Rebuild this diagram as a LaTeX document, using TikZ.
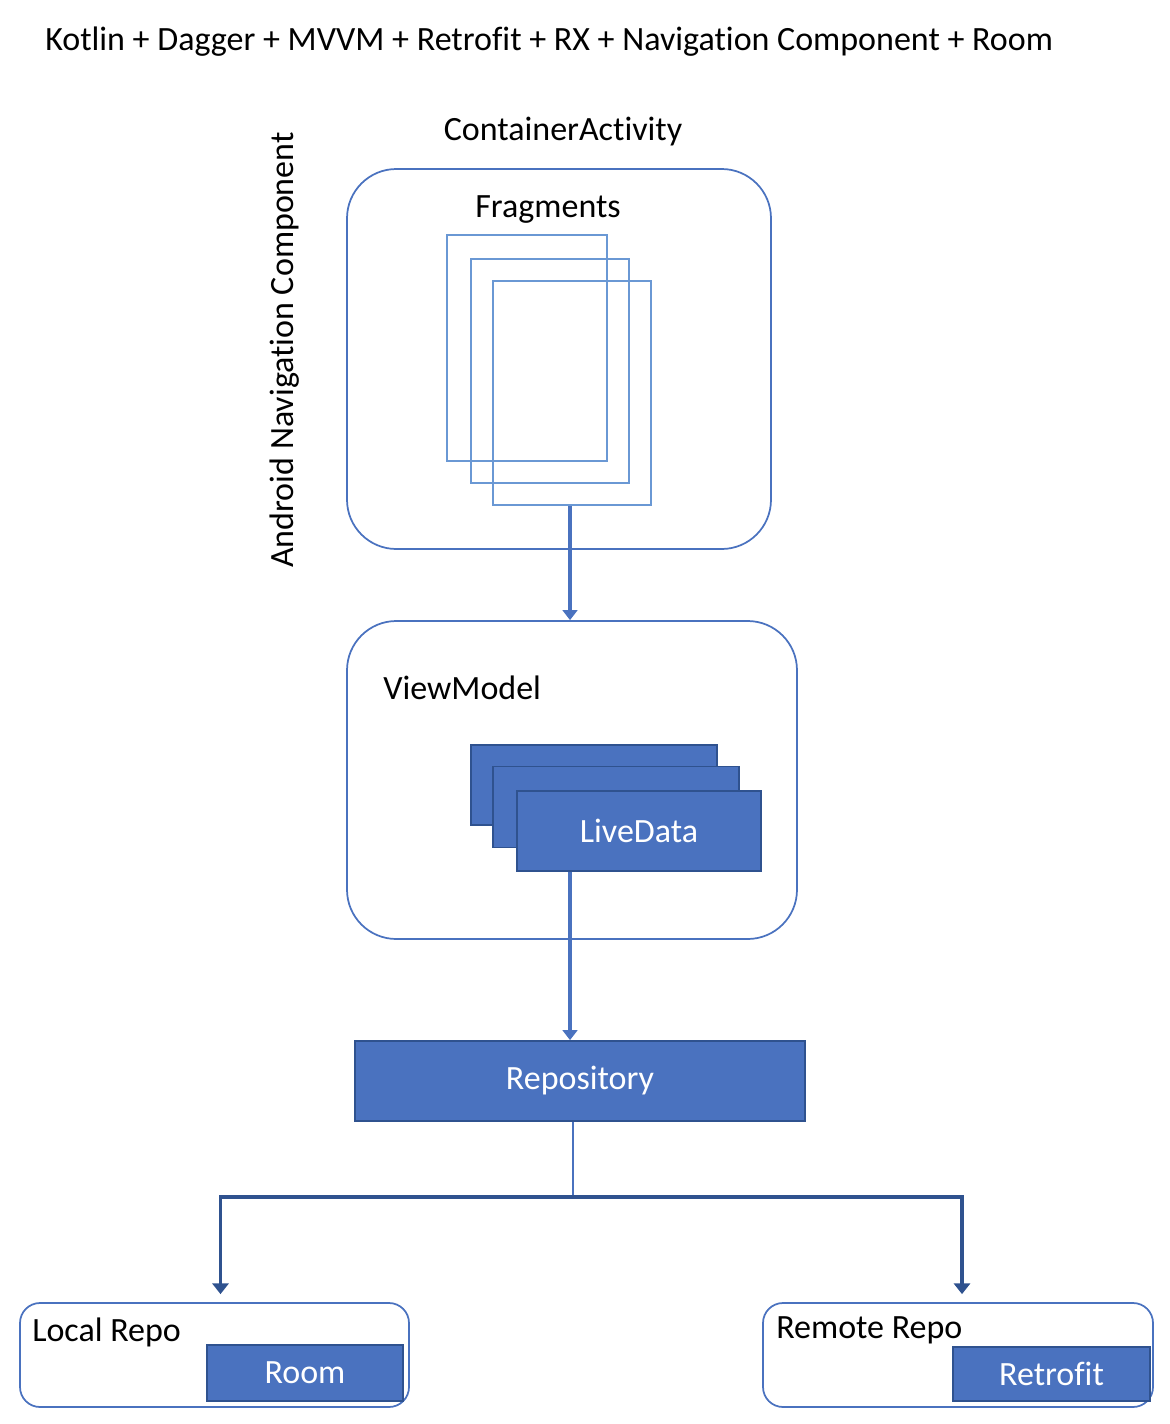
\documentclass[tikz,border=0pt]{standalone}
\usepackage{fontspec}
\setmainfont{Carlito}[Ligatures=NoCommon]
\usetikzlibrary{arrows.meta}
\definecolor{accent}{HTML}{4A72BF}
\definecolor{accentdark}{HTML}{2F528F}
\definecolor{fragblue}{HTML}{6A98D4}
\tikzset{
  lbl/.style={font=\fontsize{25.5}{30}\selectfont, text=black, inner sep=0pt},
  roundbox/.style={draw=accent, line width=1.3pt, fill=white, rounded corners=37pt, inner sep=0pt},
  smallround/.style={draw=accent, line width=1.3pt, fill=white, rounded corners=15pt, inner sep=0pt},
  fragbox/.style={draw=fragblue, line width=1.4pt, inner sep=0pt},
  solidbox/.style={draw=accentdark, line width=1.3pt, fill=accent, inner sep=0pt, text=white, font=\fontsize{25.5}{30}\selectfont},
  flow/.style={draw=accent, line width=2.6pt, -{Triangle[width=11pt,length=7.5pt]}},
  branch/.style={draw=accentdark, line width=2.6pt, -{Triangle[width=12pt,length=8pt]}, shorten >=6pt},
}
\begin{document}
\begin{tikzpicture}[x=0.75pt,y=-0.75pt]
\useasboundingbox (0,0) rectangle (1170,1424);
\node[lbl, anchor=west] (title) at (45,41.5) {Kotlin + Dagger + MVVM + Retrofit + RX + Navigation Component + Room};
\node[lbl] (calabel) at (563,132) {ContainerActivity};
\node[lbl, rotate=90] (navlabel) at (285,350) {Android Navigation Component};
% container
\node[roundbox, minimum width={424*0.75pt}, minimum height={380*0.75pt}] (container) at (559,359) {};
\node[lbl] (fraglabel) at (548,210) {Fragments};
\node[fragbox, minimum width={160*0.75pt}, minimum height={226*0.75pt}] (frag1) at (527,348) {};
\node[fragbox, minimum width={158*0.75pt}, minimum height={224*0.75pt}] (frag2) at (550,371) {};
\node[fragbox, minimum width={158*0.75pt}, minimum height={224*0.75pt}] (frag3) at (572,393) {};
% viewmodel
\node[roundbox, minimum width={450*0.75pt}, minimum height={318*0.75pt}] (vm) at (572,780) {};
\node[lbl, anchor=west] (vmlabel) at (383,688) {ViewModel};
\node[solidbox, minimum width={246*0.75pt}, minimum height={80*0.75pt}] (ld1) at (594,785) {};
\node[solidbox, minimum width={246*0.75pt}, minimum height={81*0.75pt}] (ld2) at (616,807) {};
\node[solidbox, minimum width={244*0.75pt}, minimum height={80*0.75pt}] (ld3) at (639,831) {LiveData};
% repository
\node[solidbox, minimum width={450*0.75pt}, minimum height={80*0.75pt}] (repo) at (580,1081) {Repository};
% local / remote
\node[smallround, minimum width={389*0.75pt}, minimum height={104*0.75pt}] (local) at (214.5,1355) {};
\node[lbl, anchor=west] (locallabel) at (32,1332) {Local Repo};
\node[solidbox, minimum width={196*0.75pt}, minimum height={56*0.75pt}] (room) at (305,1373) {Room};
\node[smallround, minimum width={390*0.75pt}, minimum height={104*0.75pt}] (remote) at (958,1355) {};
\node[lbl, anchor=west] (remotelabel) at (776,1330) {Remote Repo};
\node[solidbox, minimum width={197*0.75pt}, minimum height={54*0.75pt}] (retrofit) at (1051.5,1374) {Retrofit};
% connectors
\draw[flow] (frag3.south -| 570,0) -- (vm.north -| 570,0);
\draw[flow] (ld3.south -| 570,0) -- (repo.north -| 570,0);
\coordinate (branchpt) at (573,1197);
\draw[draw=accent, line width=1.3pt] (repo.south -| branchpt) -- (branchpt);
\draw[branch] (branchpt) -| ([xshift=4.5]local.north);
\draw[branch] (branchpt) -| ([xshift=3]remote.north);
\end{tikzpicture}
\end{document}
